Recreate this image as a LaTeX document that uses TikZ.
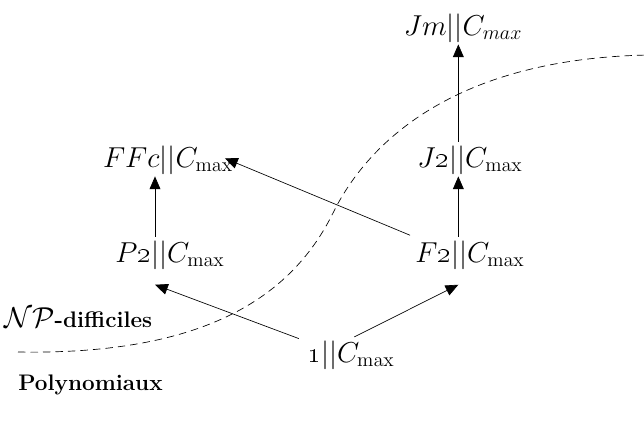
\documentclass[tikz,border=0pt]{standalone}
\usepackage{tikz}
\usetikzlibrary{positioning}
\usetikzlibrary{arrows.meta}
\tikzset{
  % A scheduling problem
  prob/.style={font=\fontsize{17}{20}\selectfont, inner sep=0pt},
  % A class label
  cls/.style={font=\fontsize{13.5}{16}\selectfont\bfseries, inner sep=0pt, anchor=west},
  % Reductions
  red/.style={-{Triangle[length=2.7mm,width=2.3mm]}, draw=black},
  border/.style={draw=black, dashed, dash pattern=on 4.5pt off 3pt},
}
\newcommand{\os}[1]{\mbox{\oldstylenums{#1}}}

\begin{document}
\begin{tikzpicture}[x=0.6pt, y=-0.6pt]
\useasboundingbox (0,0) rectangle (644,429);

\node[prob] (jm) at (463,28) {$Jm||C_{max}$};
\node[prob] (jtwo) at (470,160) {$J\os{2}||C_{\max}$};
\node[prob] (ffc) at (168,160) {$FFc||C_{\max}$};
\node[prob] (ptwo) at (170,255) {$P\os{2}||C_{\max}$};
\node[prob] (ftwo) at (470,255) {$F\os{2}||C_{\max}$};
\node[prob] (one) at (351,355) {$\os{1}||C_{\max}$};

\node[cls] (np) at (4,318) {{\fontsize{16}{19}\selectfont$\mathcal{N}\mathcal{P}$}-difficiles};
\node[cls] (poly) at (18,385) {Polynomiaux};

% frontier between the two classes
\draw[border] (18,352) .. controls (200,355) and (290,300) .. (333,213)
  .. controls (370,138) and (460,58) .. (650,55);

\draw[red] ([xshift=-9pt,yshift=2pt]ptwo.north) -- ([xshift=-9pt,yshift=-1pt]ptwo.north |- ffc.south);
\draw[red] ([xshift=-7pt,yshift=2pt]ftwo.north) -- ([xshift=-7pt,yshift=-1pt]jtwo.south);
\draw[red] ([xshift=-7pt,yshift=2pt]jtwo.north) -- ([xshift=-7pt,yshift=-1pt]jtwo.north |- jm.south);
\draw[red] ([xshift=-3pt,yshift=3pt]ftwo.north west) -- ([xshift=-5pt,yshift=1pt]ffc.east);
\draw[red] ([xshift=-5pt,yshift=1pt]one.north west) -- ([xshift=-9pt,yshift=-9pt]ptwo.south);
\draw[red] ([xshift=2pt,yshift=2pt]one.north) -- ([xshift=-7pt,yshift=-9pt]ftwo.south);

\end{tikzpicture}
\end{document}
